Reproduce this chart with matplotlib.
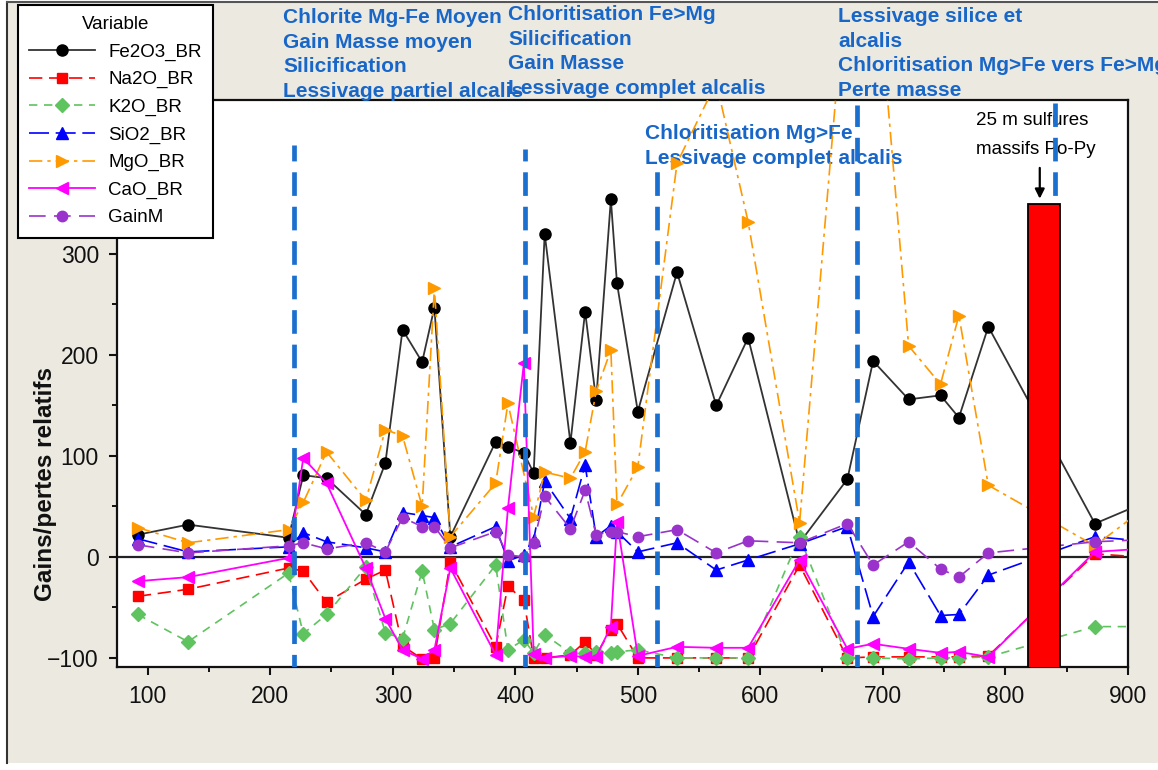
import numpy as np
import matplotlib
matplotlib.use("Agg")
import matplotlib.pyplot as plt
from matplotlib.patches import Rectangle
from matplotlib.lines import Line2D
from matplotlib.ticker import MultipleLocator

plt.rcParams['font.family'] = ['Liberation Sans', 'DejaVu Sans']

# ---------------- data ----------------
depth = [92, 133, 215, 227, 246, 278, 294, 308, 324, 334, 347, 384, 394, 407, 415, 424,
         445, 457, 466, 478, 483, 500, 532, 564, 590, 632, 671, 692, 721, 747, 762, 786,
         873, 910]
nan = np.nan
fe2o3 = [22, 32, 19, 81, 78, 42, 93, 225, 193, 247, 20, 114, 109, 103, 83, 320,
         113, 243, 155, 354, 271, 144, 282, 150, 217, 14, 77, 194, 156, 160, 138, 228,
         33, 52]
na2o = [-39, -32, -11, -14, -45, -22, -13, -88, -101, -100, -5, -89, -29, -43, -100, -100,
        -97, -84, -97, -72, -66, -100, -100, -100, -100, -8, -100, -99, -99, -99, -99, -98,
        3, 0]
k2o = [-57, -84, -16, -76, -57, -10, -75, -81, -14, -72, -66, -8, -92, -82, -95, -77,
       -95, -95, -94, -95, -94, -92, -100, -100, -100, 20, -100, -100, -101, -100, -100, -99,
       -69, -69]
sio2 = [18, 5, 10, 24, 15, 9, 5, 44, 41, 39, 10, 30, -4, 2, 17, 75,
        38, 91, 20, 31, 25, 5, 14, -13, -3, 13, 30, -59, -5, -58, -57, -18,
        20, 16]
mgo = [29, 14, 27, 54, 104, 56, 126, 120, 50, 266, 20, 73, 152, nan, 40, 84,
       78, 104, 164, 205, 52, 89, 390, 470, 332, 34, 590, 620, 209, 171, 239, 71,
       11, 45]
cao = [-24, -20, -1, 98, 73, -11, -61, -92, -101, -92, -11, -97, 48, 192, -96, -100,
       -98, -99, -99, -69, 35, -98, -89, -90, -90, -3, -91, -86, -91, -95, -94, -99,
       5, 8]
gainm = [12, 4, 11, 14, 8, 14, 5, 39, 30, 30, 9, 25, 2, 0, 14, 60,
         28, 66, 22, 25, 25, 20, 27, 4, 16, 14, 33, -8, 15, -12, -20, 4,
         15, 17]

series_names = ['Fe2O3_BR', 'Na2O_BR', 'K2O_BR', 'SiO2_BR', 'MgO_BR', 'CaO_BR', 'GainM']

boundary_depths = [219.4, 407.9, 516, 679.2, 840.4]
boundary_tops = [408, 404, 390, 448, 450]

sulfide_center = [831.5]
sulfide_top = [350]
sulfide_width = 26

zone_texts = [
    "Chlorite Mg-Fe Moyen\nGain Masse moyen\nSilicification\nLessivage partiel alcalis",
    "Chloritisation Fe>Mg\nSilicification\nGain Masse\nLessivage complet alcalis",
    "Chloritisation Mg>Fe\nLessivage complet alcalis",
    "Lessivage silice et\nalcalis\nChloritisation Mg>Fe vers Fe>Mg\nPerte masse",
]
sulfide_text = "25 m sulfures\nmassifs Po-Py"
ylabel_text = "Gains/pertes relatifs"

# ---------------- figure ----------------
W, H = 1158, 770
fig = plt.figure(figsize=(W / 100, H / 100), dpi=100)
fig.patch.set_facecolor('white')

def fx(px):
    return px / W

def fy(py):
    return 1 - py / H

fig.patches.append(Rectangle((fx(7), fy(763)), 1 - fx(7), fy(2) - fy(763),
                             transform=fig.transFigure, facecolor='#ECE9E1',
                             edgecolor='none', zorder=-10))
fig.add_artist(Line2D([fx(7), fx(7)], [fy(2), fy(763)], color='#333333', lw=1.5))
fig.add_artist(Line2D([fx(7), 1], [fy(2), fy(2)], color='#555555', lw=1.5))

ax = fig.add_axes([fx(117), fy(667), fx(1128) - fx(117), fy(100) - fy(667)])
ax.set_facecolor('white')

x = np.asarray(depth, float)

def plot_series(vals, **kw):
    v = np.asarray(vals, float)
    m = ~np.isnan(v)
    return ax.plot(x[m], v[m], **kw)[0]

handles = []
handles.append(plot_series(fe2o3, color='#333333', lw=1.3, marker='o', ms=8,
                           mfc='black', mec='black', zorder=3))
handles.append(plot_series(na2o, color='#ff0000', lw=1.2, ls=(0, (8, 4)), marker='s', ms=7.5,
                           mfc='#ff0000', mec='#ff0000', zorder=3))
handles.append(plot_series(k2o, color='#5fc35f', lw=1.2, ls=(0, (5, 4)), marker='D', ms=7,
                           mfc='#5fc35f', mec='#5fc35f', zorder=3))
handles.append(plot_series(sio2, color='#0000ff', lw=1.2, ls=(0, (12, 4)), marker='^', ms=8.5,
                           mfc='#0000ff', mec='#0000ff', zorder=3))
handles.append(plot_series(mgo, color='#ff9900', lw=1.2, ls=(0, (8, 3, 2, 3)), marker='>', ms=8.5,
                           mfc='#ff9900', mec='#ff9900', zorder=3))
handles.append(plot_series(cao, color='#ff00ff', lw=1.3, marker='<', ms=8.5,
                           mfc='#ff00ff', mec='#ff00ff', zorder=3))
handles.append(plot_series(gainm, color='#9933cc', lw=1.2, ls=(0, (10, 5)), marker='o', ms=7.5,
                           mfc='#9933cc', mec='#9933cc', zorder=3))

ax.axhline(0, color='#222222', lw=1.6, zorder=2.5)

for d, t in zip(boundary_depths, boundary_tops):
    ax.plot([d, d], [-120, t], color='#1a6fcf', lw=3.4, ls=(0, (5, 2.3)), zorder=4)

ax.bar(sulfide_center, [t + 120 for t in sulfide_top], width=sulfide_width, bottom=-120,
       color='#ff0000', edgecolor='black', lw=1.3, zorder=6)
ax.annotate('', xy=(828, sulfide_top[0] + 2), xytext=(828, 388),
            arrowprops=dict(arrowstyle='-|>', color='black', lw=1.6, mutation_scale=14),
            zorder=7)

ax.set_xlim(75, 900)
ax.set_ylim(-109, 452.5)
ax.set_xticks(range(100, 901, 100))
ax.set_yticks(range(-100, 401, 100))
ax.xaxis.set_minor_locator(MultipleLocator(50))
ax.yaxis.set_minor_locator(MultipleLocator(50))
ax.tick_params(axis='both', which='major', length=6, width=1.5, labelsize=16.5, pad=7,
               direction='out', top=False, right=False, colors='#111111')
ax.tick_params(axis='both', which='minor', length=3.5, width=1.3, top=False, right=False)
for sp in ax.spines.values():
    sp.set_linewidth(1.6)
    sp.set_color('#111111')

blue = '#1766c8'
tk = dict(color=blue, fontsize=15, fontweight='bold', linespacing=1.38, va='top', ha='left')
fig.text(fx(283), fy(8), zone_texts[0], **tk)
fig.text(fx(508), fy(5), zone_texts[1], **tk)
ax.text(fx(645), fy(124), zone_texts[2], transform=fig.transFigure, zorder=2, clip_on=False, **tk)
fig.text(fx(838), fy(7), zone_texts[3], **tk)

ax.text(fx(976), fy(112), sulfide_text, transform=fig.transFigure, fontsize=13.5,
        color='black', linespacing=1.9, va='top', ha='left', zorder=2, clip_on=False)

fig.text(fx(46), fy(484), ylabel_text, rotation=90, fontsize=17.5, fontweight='bold',
         ha='center', va='center', color='#111111')

leg = fig.legend(handles, series_names, loc='upper left', bbox_to_anchor=(fx(18), fy(5)),
                 title='Variable', frameon=True, fancybox=False, edgecolor='black',
                 framealpha=1, borderaxespad=0, fontsize=13.5, title_fontsize=13.5,
                 handlelength=3.5, handletextpad=0.7, labelspacing=0.55, borderpad=0.6)
leg.get_frame().set_linewidth(1.5)
leg.set_zorder(20)

fig.savefig('out.png', dpi=100, facecolor=fig.get_facecolor())
